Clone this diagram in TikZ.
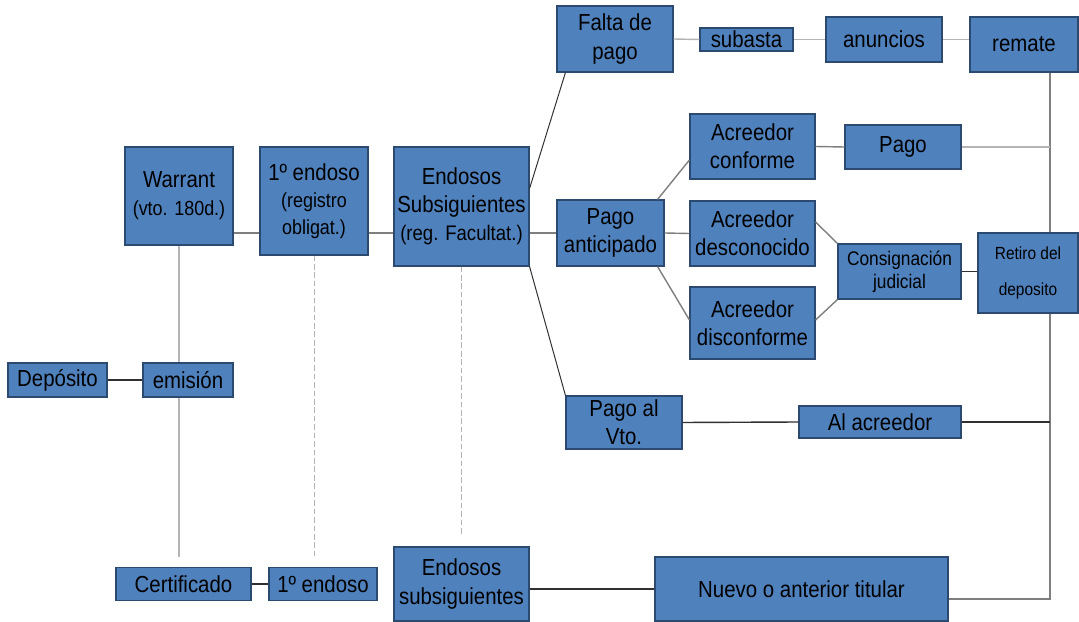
\documentclass[tikz,border=0pt]{standalone}
\usepackage{fontspec}
\setmainfont{Liberation Sans}[FakeStretch=0.88]
\usetikzlibrary{calc,positioning}

\definecolor{boxblue}{HTML}{4F81BD}
\definecolor{boxedge}{HTML}{2C4A70}
\definecolor{paleline}{HTML}{B4B4B4}
\definecolor{midline}{HTML}{7F7F7F}
\definecolor{darkline}{HTML}{303030}

\newcommand{\smalltxt}{\fontsize{14.5}{17}\selectfont}

\tikzset{
  box/.style={rectangle, draw=boxedge, fill=boxblue, line width=0.8pt, inner sep=0pt, align=center, font=\fontsize{16.5}{20}\selectfont},
  palelink/.style={draw=paleline, line width=1pt},
  link/.style={draw=midline, line width=1pt},
  darklink/.style={draw=darkline, line width=1pt},
  hint/.style={draw=paleline, line width=0.6pt, dashed, dash pattern=on 4pt off 2pt},
}

\begin{document}
\begin{tikzpicture}[x=0.025cm, y=-0.025cm]
        \def\px{0.025cm}
        \useasboundingbox (0,0) rectangle (1079,622);

        % left part
        \node (warrant) [box, minimum width=108*\px, minimum height=98*\px] at (179,196) {Warrant\\\smalltxt (vto. 180d.)};
        \node (endoso1) [box, minimum width=108*\px, minimum height=108*\px] at (314,201) {1º endoso\\[-1pt]\smalltxt (registro\\[-1pt]\smalltxt obligat.)};
        \node (endsub) [box, minimum width=135*\px, minimum height=119*\px] at (461.5,206.5) {Endosos\\Subsiguientes\\\fontsize{15}{18}\selectfont (reg. Facultat.)};
        \node (deposito) [box, minimum width=99*\px, minimum height=34*\px] at (57.5,380) {Depósito};
        \node (emision) [box, minimum width=90*\px, minimum height=34*\px] at (188,380) {emisión};

        % bottom row
        \node (cert) [box, minimum width=135*\px, minimum height=33*\px] at (183.5,584) {Certificado};
        \node (endoso2) [box, minimum width=108*\px, minimum height=33*\px] at (323,584) {1º endoso};
        \node (endsub2) [box, minimum width=135*\px, minimum height=74*\px] at (461.5,584) {Endosos\\subsiguientes};
        \node (nuevo) [box, minimum width=293*\px, minimum height=64*\px] at (801.5,589) {Nuevo o anterior titular};

        % top row
        \node (falta) [box, minimum width=116*\px, minimum height=66*\px] at (615,39) {Falta de\\pago};
        \node (subasta) [box, minimum width=93*\px, minimum height=23*\px] at (746.5,39.5) {subasta};
        \node (anuncios) [box, minimum width=116*\px, minimum height=45*\px] at (884,39.5) {anuncios};
        \node (remate) [box, minimum width=108*\px, minimum height=55*\px] at (1024,44.5) {remate};

        % pago anticipado branch
        \node (pagoant) [box, minimum width=107*\px, minimum height=66*\px] at (610.5,233) {Pago\\anticipado};
        \node (acconf) [box, minimum width=125*\px, minimum height=65*\px] at (752.5,146.5) {Acreedor\\conforme};
        \node (acdesc) [box, minimum width=125*\px, minimum height=65*\px] at (752.5,233.5) {Acreedor\\desconocido};
        \node (acdisc) [box, minimum width=125*\px, minimum height=72*\px] at (752.5,323) {Acreedor\\disconforme};
        \node (pago) [box, minimum width=116*\px, minimum height=44*\px] at (903,147) {Pago};
        \node (consig) [box, minimum width=123*\px, minimum height=55*\px, font=\fontsize{14}{16.5}\selectfont] at (899.5,271.5) {Consignación\\judicial};
        \node (retiro) [box, minimum width=100*\px, minimum height=80*\px, font=\fontsize{12.5}{26}\selectfont] at (1028,273) {Retiro del\\deposito};

        % pago al vto.
        \node (pagovto) [box, minimum width=116*\px, minimum height=53*\px] at (624,422.5) {Pago al\\Vto.};
        \node (alacr) [box, minimum width=162*\px, minimum height=32*\px] at (880,422) {Al acreedor};

        \coordinate (vtop) at ($(remate.south)+(26,0)$);
        \coordinate (vbot) at (vtop |- 0,599);

        % connectors
        \draw [link] (warrant.east |- pagoant.west) -- (endoso1.west |- pagoant.west);
        \draw [link] (endoso1.east |- pagoant.west) -- (endsub.west |- pagoant.west);
        \draw [link] (endsub.east |- pagoant.west) -- (pagoant.west);
        \draw [link] (pagoant.east) -- (acdesc.west);
        \draw [link] (acconf.east) -- (pago.west);
        \draw [darklink] (deposito.east) -- (emision.west);
        \draw [palelink] (warrant.south) -- (warrant.south |- emision.north);
        \draw [palelink, shorten >=10*\px] (warrant.south |- emision.south) -- (warrant.south |- cert.north);
        \draw [hint, shorten >=10*\px] (endoso1.south) -- (endoso1.south |- endoso2.north);
        \draw [hint, shorten >=12*\px] (endsub.south) -- (endsub.south |- endsub2.north);
        \draw [darklink] (cert.east) -- (endoso2.west);
        \draw [darklink] (endsub2.east |- nuevo.west) -- (nuevo.west);

        \draw [palelink] (falta.east) -- (subasta.west);
        \draw [palelink] (subasta.east) -- (anuncios.west);
        \draw [palelink] (anuncios.east) -- (anuncios.east -| remate.west);

        \draw [darklink, line width=0.7pt] ($(endsub.east)+(0,-18)$) -- ($(falta.south west)+(9,0)$);
        \draw [darklink, line width=0.7pt] (endsub.south east) -- (pagovto.north west);
        \draw [link] ($(pagoant.north east)+(-7,0)$) -- ($(acconf.west)+(0,13.5)$);
        \draw [link] ($(pagoant.south east)+(-7,0)$) -- ($(acdisc.west)+(0,-3)$);
        \draw [link] ($(acdesc.east)+(0,-11.5)$) -- (consig.north west);
        \draw [link] ($(acdisc.east)+(0,-3)$) -- (consig.south west);
        \draw [darklink] (consig.east) -- (consig.east -| retiro.west);

        \draw [link] (vtop) -- (vtop |- retiro.north);
        \draw [link] (vtop |- retiro.south) -- (vbot) -- (nuevo.east |- vbot);
        \draw [palelink] (pago.east) -- (pago.east -| vtop);
        \draw [darklink] (pagovto.east) -- (alacr.west);
        \draw [darklink] (alacr.east) -- (alacr.east -| vtop);
\end{tikzpicture}
\end{document}
